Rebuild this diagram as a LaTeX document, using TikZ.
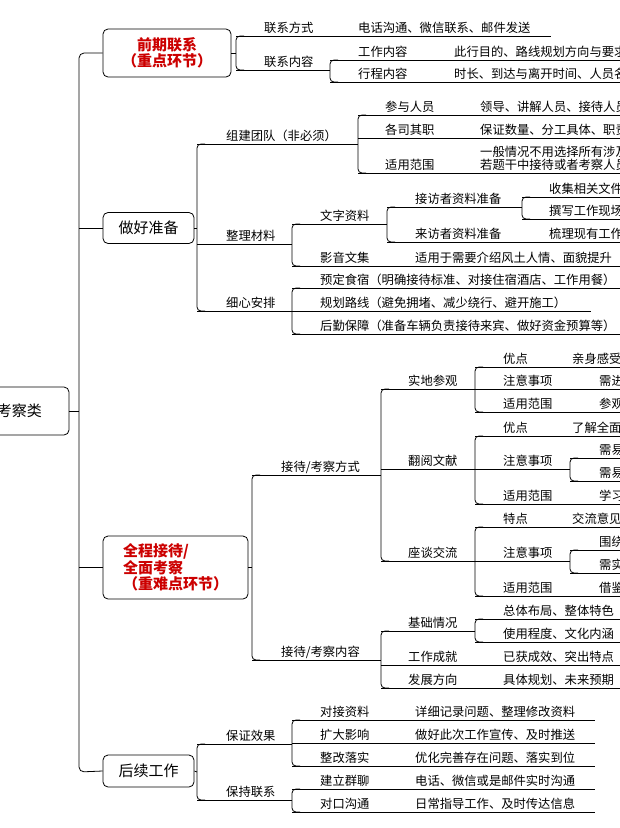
\documentclass[tikz,border=0pt]{standalone}
\usepackage{fontspec}
\setmainfont{Noto Sans CJK SC}
\newcount\rc
\tikzset{
 lbl/.style={anchor=base west,inner sep=0pt,yshift=4pt,font=\fontsize{12.3}{14}\selectfont},
 ln/.style={line width=0.8pt},
 box/.style={draw,line width=0.8pt,rounded corners=5pt,inner sep=0pt},
 redt/.style={text=red!80!black,font=\fontsize{15}{16.5}\selectfont\bfseries,align=center}
}
\newcommand\row[5]{\global\advance\rc by1
 \draw[ln] (#1,#3) -- (#2,#3); \node[lbl] (r\the\rc) at (#4,#3) {#5};}
\newcommand\val[3]{\global\advance\rc by1 \node[lbl] (v\the\rc) at (#1,#2) {#3};}
\newcommand\brk[3]{\draw[ln,rounded corners=4pt] (#1+8,#2) -| (#1,#3) -- (#1+8,#3);}
\begin{document}
\begin{tikzpicture}[x=1pt,y=-1pt]
\useasboundingbox (0,0) rectangle (620,828);
\clip (0,0) rectangle (620,828);
\fill[white] (0,0) rectangle (620,828);
% level 1 boxes
\node[box,minimum width=129pt,minimum height=48pt] (root) at (4.5,411) {\fontsize{15}{17}\selectfont 接待考察类\hspace{6pt}};
\node[box,minimum width=128pt,minimum height=48pt,redt] (q) at (167,53) {前期联系\\（重点环节）};
\node[box,minimum width=91pt,minimum height=31pt,font=\fontsize{15}{17}\selectfont] (z) at (148.5,228) {做好准备};
\node[box,minimum width=145pt,minimum height=63pt,redt,align=left] (c) at (175.5,567.5) {全程接待/\\全面考察\\（重难点环节）};
\node[box,minimum width=91pt,minimum height=32pt,font=\fontsize{15}{17}\selectfont] (h) at (148.5,771) {后续工作};
% spine
\draw[ln,rounded corners=5pt] (q.west) -| (79,772) -- (h.west);
\draw[ln] (root.east) -- (79,411);
\draw[ln] (79,228) -- (z.west);
\draw[ln] (79,567.5) -- (c.west);
\draw[ln] (q.east) -- (236,53);
\draw[ln] (z.east) -- (197,228);
\draw[ln] (c.east) -- (252,567.5);
\draw[ln] (h.east) -- (197,772);
% 前期联系
\brk{236}{36}{70}
\row{236}{551}{36}{264}{联系方式} \val{358}{36}{电话沟通、微信联系、邮件发送}
\row{236}{330}{70}{264}{联系内容}
\brk{330}{60}{82}
\row{330}{620}{60}{358}{工作内容} \val{454}{60}{此行目的、路线规划方向与要求}
\row{330}{620}{82}{358}{行程内容} \val{454}{82}{时长、到达与离开时间、人员名单}
% 做好准备
\brk{197}{144}{311}
\row{197}{358}{144}{226}{组建团队（非必须）}
\brk{358}{115}{173}
\row{358}{620}{115}{385}{参与人员} \val{480}{115}{领导、讲解人员、接待人员}
\row{358}{620}{138}{385}{各司其职} \val{480}{138}{保证数量、分工具体、职责明确}
\row{358}{620}{173}{385}{适用范围} \val{480}{160}{一般情况不用选择所有涉及人员} \val{480}{173}{若题干中接待或者考察人员较多}
\row{197}{292}{244}{226}{整理材料}
\brk{292}{224}{266}
\row{292}{387}{224}{320}{文字资料}
\brk{387}{207}{242}
\row{387}{522}{207}{415}{接访者资料准备}
\brk{522}{197}{219}
\row{522}{620}{197}{549}{收集相关文件}
\row{522}{620}{219}{549}{撰写工作现场}
\row{387}{620}{242}{415}{来访者资料准备} \val{549}{242}{梳理现有工作}
\row{292}{620}{266}{320}{影音文集} \val{415}{266}{适用于需要介绍风土人情、面貌提升}
\row{197}{292}{311}{226}{细心安排}
\brk{292}{288}{334}
\row{292}{620}{288}{320}{预定食宿（明确接待标准、对接住宿酒店、工作用餐）}
\row{292}{591}{311}{320}{规划路线（避免拥堵、减少绕行、避开施工）}
\row{292}{620}{334}{320}{后勤保障（准备车辆负责接待来宾、做好资金预算等）}
% 全程接待
\brk{252}{475}{660}
\row{252}{381}{475}{281}{接待/考察方式}
\brk{381}{389}{561}
\row{381}{475}{389}{408}{实地参观}
\brk{475}{367}{412}
\row{475}{620}{367}{503}{优点} \val{572}{367}{亲身感受}
\row{475}{620}{389}{503}{注意事项} \val{599}{389}{需进行}
\row{475}{620}{412}{503}{适用范围} \val{599}{412}{参观}
\row{381}{475}{469}{408}{翻阅文献}
\brk{475}{436}{504}
\row{475}{620}{436}{503}{优点} \val{572}{436}{了解全面}
\row{475}{570}{469}{503}{注意事项}
\brk{570}{458}{481}
\row{570}{620}{458}{599}{需易}
\row{570}{620}{481}{599}{需易}
\row{475}{620}{504}{503}{适用范围} \val{599}{504}{学习}
\row{381}{475}{561}{408}{座谈交流}
\brk{475}{527}{596}
\row{475}{620}{527}{503}{特点} \val{572}{527}{交流意见}
\row{475}{570}{561}{503}{注意事项}
\brk{570}{550}{573}
\row{570}{620}{550}{599}{围绕}
\row{570}{620}{573}{599}{需实}
\row{475}{620}{596}{503}{适用范围} \val{599}{596}{借鉴}
\row{252}{381}{660}{281}{接待/考察内容}
\brk{381}{631}{688}
\row{381}{475}{631}{408}{基础情况}
\brk{475}{619}{642}
\row{475}{620}{619}{503}{总体布局、整体特色}
\row{475}{620}{642}{503}{使用程度、文化内涵}
\row{381}{620}{665}{408}{工作成就} \val{503}{665}{已获成效、突出特点}
\row{381}{620}{688}{408}{发展方向} \val{503}{688}{具体规划、未来预期}
% 后续工作
\brk{197}{744}{800}
\row{197}{292}{744}{226}{保证效果}
\brk{292}{720}{766}
\row{292}{595}{720}{320}{对接资料} \val{415}{720}{详细记录问题、整理修改资料}
\row{292}{595}{743}{320}{扩大影响} \val{415}{743}{做好此次工作宣传、及时推送}
\row{292}{595}{766}{320}{整改落实} \val{415}{766}{优化完善存在问题、落实到位}
\row{197}{292}{800}{226}{保持联系}
\brk{292}{789}{812}
\row{292}{595}{789}{320}{建立群聊} \val{415}{789}{电话、微信或是邮件实时沟通}
\row{292}{595}{812}{320}{对口沟通} \val{415}{812}{日常指导工作、及时传达信息}
\end{tikzpicture}
\end{document}
